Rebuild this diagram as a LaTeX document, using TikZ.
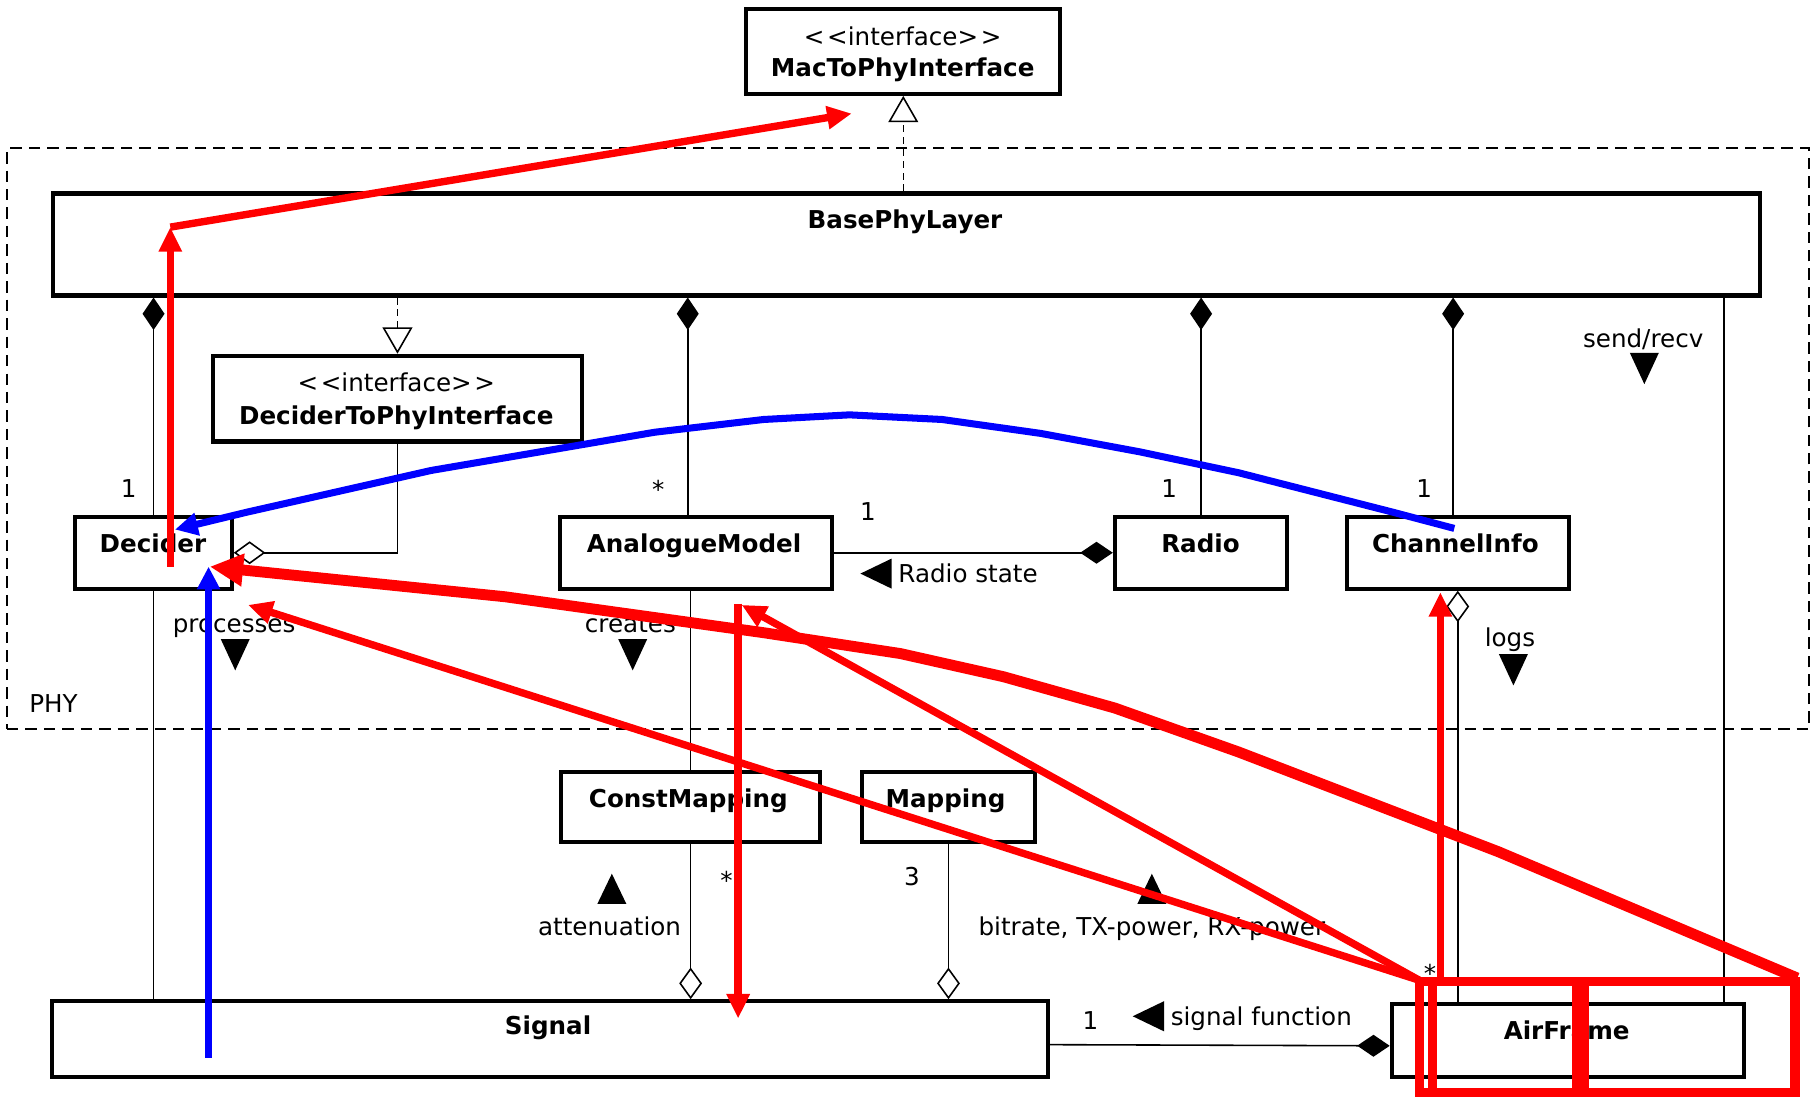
\documentclass[tikz,border=0pt]{standalone}
\usepackage{fontspec}
\setmainfont{DejaVu Sans}
\usetikzlibrary{arrows.meta,calc,fit}
\newcommand\mtridown[2]{\fill (#1-12.5,#2-13.5) -- (#1+12.5,#2-13.5) -- (#1,#2+13.5) -- cycle;}
\newcommand\mtriup[2]{\fill (#1-12.5,#2+13) -- (#1+12.5,#2+13) -- (#1,#2-13) -- cycle;}
\newcommand\mtrileft[2]{\fill (#1+13.5,#2-13) -- (#1+13.5,#2+13) -- (#1-13.5,#2) -- cycle;}
\newcommand\stereo{<\kern1.5pt<interface>\kern1.5pt>}
\begin{document}
\begin{tikzpicture}[x=0.02318cm,y=-0.02318cm,
  font=\fontsize{14}{17}\selectfont,
  cls/.style={draw,line width=2.3pt,fill=white,inner sep=0pt},
  txt/.style={anchor=base,inner sep=0pt},
  pkg/.style={draw,line width=1.1pt,dash pattern=on 6.5pt off 4pt,inner sep=0pt},
  assoc/.style={line width=0.9pt},
  comp/.style={assoc,{Diamond[length=18.5pt,width=12.5pt]}-},
  compend/.style={assoc,-{Diamond[length=18.5pt,width=12.5pt]}},
  aggr/.style={assoc,-{Diamond[open,fill=white,length=18pt,width=13pt]}},
  realize/.style={assoc,dash pattern=on 4pt off 2.8pt,-{Triangle[open,fill=white,length=15pt,width=17pt]}},
  redthin/.style={draw=red,line width=4.2pt,-{Triangle[length=14pt,width=12.5pt]}},
  redthick/.style={draw=red,line width=6.2pt,line join=round,-{Triangle[length=19pt,width=17.5pt]}},
  bluel/.style={draw=blue,line width=4pt,line join=round,-{Triangle[length=13pt,width=12.5pt]}},
  redbox/.style={draw=red,line width=5.3pt}]
\useasboundingbox (0,0) rectangle (1568,948);
\fill[white] (0,0) rectangle (1568,948);

% package frame
\node[pkg,fit={(6,128)(1561,629)}] (phy) {};

% classes
\node[cls,fit={(644,8)(915,81)}] (mac) {};
\node[cls,fit={(46,167)(1519,255)}] (base) {};
\node[cls,fit={(184,307)(502,381)}] (dtpi) {};
\node[cls,fit={(65,446)(200,508)}] (decider) {};
\node[cls,fit={(483,446)(718,508)}] (analog) {};
\node[cls,fit={(962,446)(1111,508)}] (radio) {};
\node[cls,fit={(1162,446)(1354,508)}] (chan) {};
\node[cls,fit={(484,666)(708,727)}] (constm) {};
\node[cls,fit={(744,666)(893,727)}] (mapping) {};
\node[cls,fit={(45,864)(904,929)}] (signal) {};
\node[cls,fit={(1201,866)(1505,929)}] (airframe) {};

% class texts
\node[txt] (macS) at (779,39) {\stereo};
\node[txt] (macN) at (779,66) {\bfseries MacToPhyInterface};
\node[txt] (baseN) at (781,197) {\bfseries BasePhyLayer};
\node[txt] (dtpiS) at (342,338) {\stereo};
\node[txt] (dtpiN) at (342,366) {\bfseries DeciderToPhyInterface};
\node[txt] (decN) at (132,477) {\bfseries Decider};
\node[txt] (amN) at (599,477) {\bfseries AnalogueModel};
\node[txt] (radN) at (1036,477) {\bfseries Radio};
\node[txt] (chanN) at (1256,477) {\bfseries ChannelInfo};
\node[txt] (cmN) at (594,697) {\bfseries ConstMapping};
\node[txt] (mapN) at (816,697) {\bfseries Mapping};
\node[txt] (sigN) at (473,893) {\bfseries Signal};
\node[txt] (afN) at (1352,897) {\bfseries AirFrame};
\node[txt,anchor=base west] (phyL) at (25,615) {PHY};

% multiplicities
\node[txt] (m1) at (111,429) {1};
\node[txt] (m2) at (568,430) {*};
\node[txt] (m3) at (749,449) {1};
\node[txt] (m4) at (1009,429) {1};
\node[txt] (m5) at (1229,429) {1};
\node[txt] (m6) at (627,768) {*};
\node[txt] (m7) at (787,764) {3};
\node[txt] (m8) at (1234,848) {*};
\node[txt] (m9) at (941,888) {1};

% role labels
\node[txt] (lsend) at (1418,300) {send/recv};
\node[txt,anchor=base west] (lradio) at (775,503) {Radio state};
\node[txt] (lproc) at (202,546) {processes};
\node[txt] (lcre) at (544,546) {creates};
\node[txt] (llogs) at (1303,558) {logs};
\node[txt] (latt) at (526,807) {attenuation};
\node[txt] (lbit) at (994,807) {bitrate, TX-power, RX-power};
\node[txt,anchor=base west] (lsig) at (1010,885) {signal function};

% direction triangles
\mtridown{1419}{318}
\mtrileft{756}{495}
\mtridown{203}{565}
\mtridown{546}{565}
\mtridown{1306}{578}
\mtriup{528}{767}
\mtriup{994}{767}
\mtrileft{991}{877}

% connectors
\draw[realize] (base.north -| mac.south) -- (mac.south);
\draw[realize] (base.south -| dtpi.north) -- (dtpi.north);
\draw[comp] (base.south -| decider.north) -- (decider.north);
\coordinate (amtop) at ($(analog.north)+(-7,0)$);
\draw[comp] (base.south -| amtop) -- (amtop);
\draw[comp] (base.south -| radio.north) -- (radio.north);
\coordinate (chtop) at ($(chan.north)+(-4,0)$);
\draw[comp] (base.south -| chtop) -- (chtop);
\coordinate (afr) at ($(airframe.north east)+(-19,0)$);
\draw[assoc] (base.south -| afr) -- (afr);
\draw[aggr] (dtpi.south) -- (dtpi.south |- decider.east) -- (decider.east);
\draw[compend] (analog.east) -- (radio.west);
\draw[assoc] (decider.south) -- (decider.south |- signal.north);
\draw[assoc] (analog.south -| constm.north) -- (constm.north);
\draw[aggr] (constm.south) -- (constm.south |- signal.north);
\draw[aggr] (mapping.south) -- (mapping.south |- signal.north);
\draw[aggr] (chan.south |- airframe.north) -- (chan.south);
\draw[compend] ($(signal.east)+(0,5)$) -- ($(airframe.west)+(0,5)$);

% annotation overlay
\draw[redthin] (147,489) -- (147,196);
\draw[redthin] (147,196) -- (735,98);
\draw[bluel] (180,913) -- (180,489);
\draw[bluel] (1255,456) -- (1202,442) -- (1069,408) -- (984,390) -- (898,374) -- (813,362) -- (733,358) -- (659,362) -- (565,373) -- (372,406) -- (213,442) -- (151,457);
\draw[redthick] (1551,844) -- (1293,735) -- (1069,649) -- (962,611) -- (866,584) -- (777,564) -- (659,546) -- (436,515) -- (181,489);
\draw[redthin] (1225,846) -- (214,522);
\draw[redthin] (1225,846) -- (640,522);
\draw[redthin] (637,521) -- (637,879);
\draw[redthin] (1243,847) -- (1243,511);
\draw[redbox] (1225,847) rectangle (1361,943);
\draw[redbox] (1236,847) -- (1236,943);
\draw[redbox] (1367,847) rectangle (1549,943);
\end{tikzpicture}
\end{document}
